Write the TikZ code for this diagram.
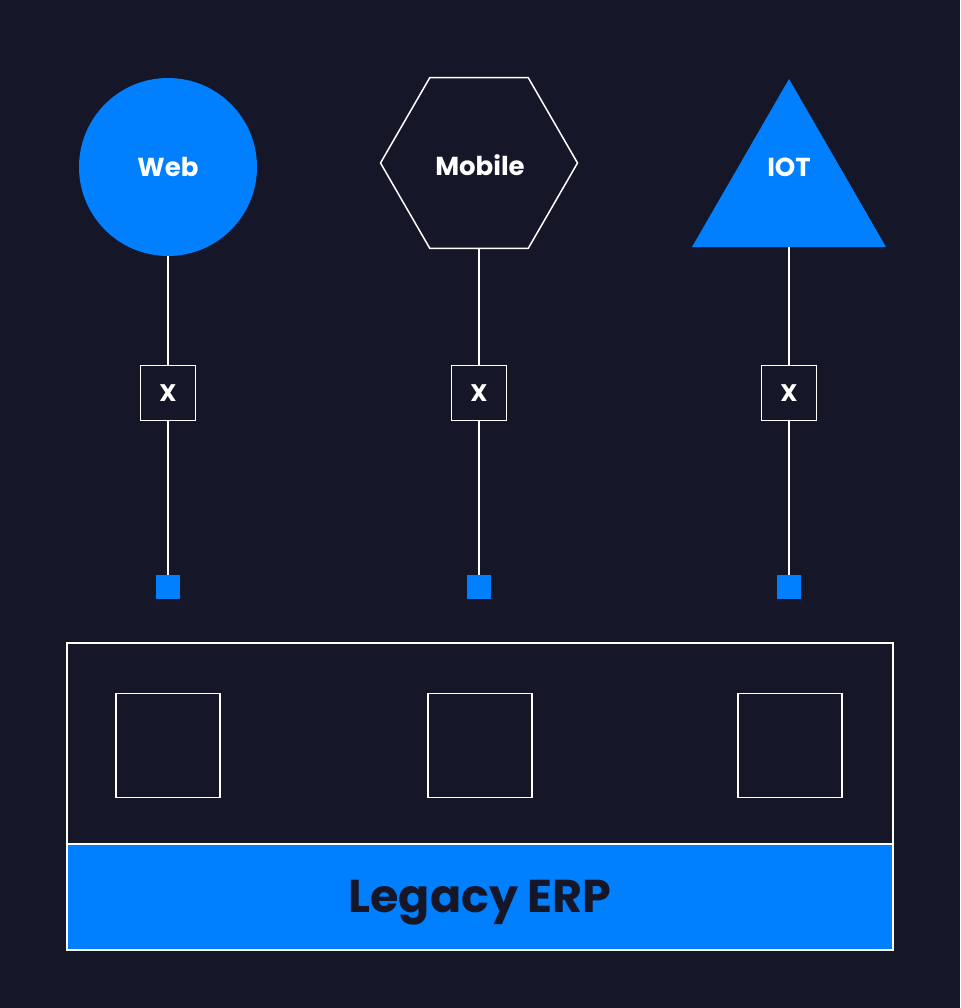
\documentclass[tikz,border=0pt]{standalone}
\usepackage{fontspec}
\setmainfont{Poppins}
\usetikzlibrary{shapes.geometric}
\definecolor{bg}{RGB}{21,23,40}
\definecolor{brand}{RGB}{0,128,255}
\tikzset{
  wline/.style={draw=white, line width=1.5pt},
  lbl/.style={text=white, font=\fontsize{26}{30}\selectfont\bfseries, inner sep=0pt},
  webshape/.style={circle, fill=brand, minimum size=178pt, inner sep=0pt, outer sep=0pt},
  hexshape/.style={regular polygon, regular polygon sides=6, wline, minimum size=197pt, inner sep=0pt, outer sep=0pt},
  trishape/.style={regular polygon, regular polygon sides=3, fill=brand, minimum size=224pt, inner sep=0pt, outer sep=0pt},
  xbox/.style={rectangle, wline, fill=bg, minimum size=55pt, inner sep=0pt, outer sep=0pt, text=white, font=\fontsize{24}{28}\selectfont\bfseries},
  port/.style={rectangle, fill=brand, minimum size=24pt, inner sep=0pt, outer sep=0pt},
  slot/.style={rectangle, wline, minimum size=104pt, inner sep=0pt, outer sep=0pt},
  conn/.style={draw=white, line width=1.5pt},
}
\begin{document}
\begin{tikzpicture}[x=1pt,y=-1pt]
\fill[bg] (0,0) rectangle (960,1008);
\useasboundingbox (0,0) rectangle (960,1008);
% top shapes
\node[webshape] (web) at (168,167) {};
\node[lbl] (webl) at (168,167) {Web};
\node[hexshape] (mob) at (479,163) {};
\node[lbl] (mobl) at (480,165) {Mobile};
\node[trishape] (iot) at (789,191) {};
\node[lbl] (iotl) at (789,167) {IOT};
% x boxes
\node[xbox] (x1) at (168,393) {X};
\node[xbox] (x2) at (479,393) {X};
\node[xbox] (x3) at (789,393) {X};
% ports
\node[port] (p1) at (168,587) {};
\node[port] (p2) at (479,587) {};
\node[port] (p3) at (789,587) {};
% connectors
\draw[conn] (web) -- (x1);
\draw[conn] (x1) -- (p1);
\draw[conn] (mob) -- (x2);
\draw[conn] (x2) -- (p2);
\draw[conn] (iot.south) -- (x3);
\draw[conn] (x3) -- (p3);
% legacy system
\node[rectangle, wline, minimum width=826pt, minimum height=307pt, inner sep=0pt, outer sep=0pt] (frame) at (480,796.5) {};
\node[rectangle, wline, fill=brand, minimum width=826pt, minimum height=106pt, inner sep=0pt, outer sep=0pt] (erp) at (480,897) {};
\node[text=bg, font=\fontsize{46}{52}\selectfont\bfseries, inner sep=0pt] (erpl) at (480,903) {Legacy ERP};
\node[slot] (s1) at (168,745.5) {};
\node[slot] (s2) at (480,745.5) {};
\node[slot] (s3) at (790,745.5) {};
\end{tikzpicture}
\end{document}
